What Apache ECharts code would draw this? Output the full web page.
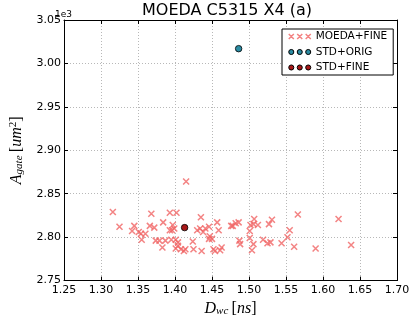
<!DOCTYPE html>
<html>
<head>
<meta charset="utf-8">
<script src="https://cdn.jsdelivr.net/npm/echarts@6/dist/echarts.min.js"></script>
<style>
html, body {margin: 0; padding: 0; background: #fff;}
#chart {width: 415px; height: 322px;}
</style>
</head>
<body>
<div id="chart"></div>
<script>
// MOEDA+FINE points (x in ns, y in um^2)
let moedaX = [1.316, 1.325, 1.345, 1.342, 1.351, 1.354, 1.360, 1.355, 1.368, 1.366,
    1.372, 1.384, 1.393, 1.393, 1.374, 1.379, 1.387, 1.383, 1.402, 1.397,
    1.396, 1.399, 1.435, 1.457, 1.459, 1.430, 1.434, 1.441, 1.446, 1.438,
    1.447, 1.446, 1.450, 1.476, 1.482, 1.395, 1.401, 1.404, 1.404, 1.401,
    1.408, 1.412, 1.414, 1.425, 1.424, 1.436, 1.452, 1.454, 1.461, 1.463,
    1.478, 1.486, 1.507, 1.506, 1.502, 1.512, 1.501, 1.527, 1.531, 1.566,
    1.555, 1.552, 1.501, 1.487, 1.488, 1.506, 1.519, 1.525, 1.529, 1.544,
    1.504, 1.561, 1.621, 1.590, 1.638, 1.415]
let moedaY = [2829, 2812, 2813, 2807, 2806, 2804, 2804, 2797, 2827, 2813,
    2811, 2817, 2828, 2808, 2796, 2796, 2796, 2788, 2828, 2814,
    2808, 2810, 2823, 2817, 2808, 2808, 2810, 2810, 2812, 2806,
    2801, 2798, 2798, 2813, 2816, 2797, 2797, 2794, 2790, 2787,
    2786, 2784, 2786, 2786, 2795, 2784, 2786, 2784, 2785, 2788,
    2813, 2817, 2821, 2815, 2814, 2814, 2807, 2815, 2820, 2826,
    2808, 2800, 2799, 2796, 2792, 2792, 2797, 2793, 2794, 2793,
    2785, 2789, 2821, 2787, 2791, 2864]
let stdOrig = [1.486, 3017]
let stdFine = [1.413, 2811]

let legendNames = ['MOEDA+FINE', 'STD+ORIG', 'STD+FINE']

let chart = echarts.init(document.getElementById('chart'));

let moedaData = moedaX.map((x, i) => [x, moedaY[i]])

let crossIcon = 'path://M0,0L6,6M6,0L0,6M10,0L16,6M16,0L10,6M20,0L26,6M26,0L20,6'
let dotsIcon = 'path://M0,3a3,3 0 1,0 6,0a3,3 0 1,0 -6,0Z M10,3a3,3 0 1,0 6,0a3,3 0 1,0 -6,0Z M20,3a3,3 0 1,0 6,0a3,3 0 1,0 -6,0Z'

let font = 'DejaVu Sans'
let mathRich = {
    i: {fontFamily: 'Liberation Serif', fontStyle: 'italic', fontSize: 16, color: '#000'},
    n: {fontFamily: 'Liberation Serif', fontSize: 16, color: '#000'},
    sub: {fontFamily: 'Liberation Serif', fontStyle: 'italic', fontSize: 11, color: '#000', verticalAlign: 'bottom', padding: [6, 0, 0, 0]},
    sup: {fontFamily: 'Liberation Serif', fontSize: 11, color: '#000', verticalAlign: 'top', padding: [0, 0, 6, 0]}
}

let frame = {show: true, onZero: false, lineStyle: {color: '#000', width: 1}}
let ticks = {show: true, inside: true, length: 4, lineStyle: {color: '#000'}}
let grid = {show: true, lineStyle: {color: '#b8b8b8', type: [1, 2], width: 1}}

let option = {
    animation: false,
    title: {
        text: 'MOEDA C5315 X4 (a)',
        left: 142,
        top: 3,
        padding: 0,
        textStyle: {fontFamily: font, fontSize: 16, fontWeight: 'normal', color: '#000'}
    },
    graphic: [{
        type: 'text', left: 55, top: 10,
        style: {text: '1e3', fontFamily: font, fontSize: 9, fill: '#000'}
    }],
    grid: {left: 55, right: 18, top: 20, bottom: 36.5},
    legend: {
        left: 282,
        top: 29,
        orient: 'vertical',
        padding: [1, 6, 1, 6],
        itemGap: 2.5,
        itemWidth: 22,
        itemHeight: 5.5,
        backgroundColor: '#fff',
        borderColor: '#000',
        borderWidth: 1,
        borderRadius: 0,
        itemStyle: {borderWidth: 1},
        textStyle: {fontFamily: font, fontSize: 10.5, color: '#000', lineHeight: 13},
        data: [
            {name: legendNames[0], icon: crossIcon, itemStyle: {borderWidth: 1.5}},
            {name: legendNames[1], icon: dotsIcon},
            {name: legendNames[2], icon: dotsIcon}
        ]
    },
    xAxis: [{
        type: 'value', min: 1.25, max: 1.70, interval: 0.05,
        axisLine: frame, axisTick: ticks, splitLine: grid,
        axisLabel: {fontFamily: font, fontSize: 11, color: '#000', margin: 4,
            formatter: v => v.toFixed(2)},
        name: '{i|D}{sub|wc} {n|[}{i|ns}{n|]}',
        nameLocation: 'middle',
        nameGap: 18,
        nameTextStyle: {rich: mathRich}
    }, {
        type: 'value', position: 'top', min: 1.25, max: 1.70, interval: 0.05,
        axisLine: frame, axisTick: ticks, splitLine: {show: false}, axisLabel: {show: false}
    }],
    yAxis: [{
        type: 'value', min: 2750, max: 3050, interval: 50,
        axisLine: frame, axisTick: ticks, splitLine: grid,
        axisLabel: {fontFamily: font, fontSize: 11, color: '#000', margin: 3,
            formatter: v => (v / 1000).toFixed(2)},
        name: '{i|A}{sub|gate} {n|[}{i|um}{sup|2}{n|]}',
        nameLocation: 'middle',
        nameGap: 39,
        nameTextStyle: {rich: mathRich}
    }, {
        type: 'value', position: 'right', min: 2750, max: 3050, interval: 50,
        axisLine: frame, axisTick: ticks, splitLine: {show: false}, axisLabel: {show: false}
    }],
    series: [
        {
            name: legendNames[0],
            type: 'scatter',
            data: moedaData,
            symbol: 'path://M0,0L10,10M10,0L0,10',
            symbolSize: 6,
            itemStyle: {color: '#f06464', borderColor: '#f06464', borderWidth: 1.5}
        },
        {
            name: legendNames[1],
            type: 'scatter',
            data: [stdOrig],
            symbol: 'circle',
            symbolSize: 6.5,
            itemStyle: {color: '#2b8ca3', borderColor: '#000', borderWidth: 0.8, opacity: 1}
        },
        {
            name: legendNames[2],
            type: 'scatter',
            data: [stdFine],
            symbol: 'circle',
            symbolSize: 6.5,
            itemStyle: {color: '#a81818', borderColor: '#000', borderWidth: 0.8, opacity: 1}
        }
    ]
};
chart.setOption(option);
</script>
</body>
</html>
